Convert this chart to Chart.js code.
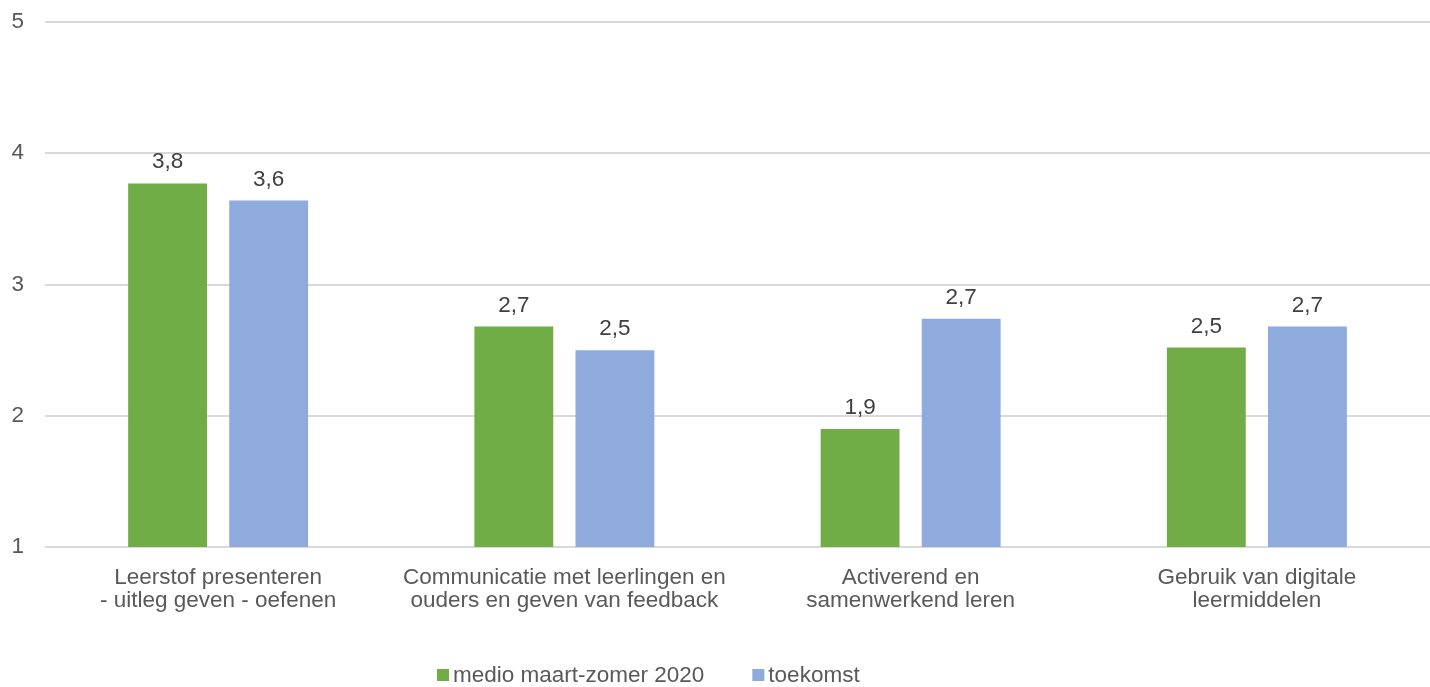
<!DOCTYPE html>
<html>
<head>
<meta charset="utf-8">
<script src="https://cdn.jsdelivr.net/npm/chart.js@4"></script>
<style>
  html, body { margin: 0; padding: 0; background: #fff; }
  #wrap { width: 1430px; height: 687px; }
</style>
</head>
<body>
<div id="wrap"><canvas id="mainChart"></canvas></div>
<script>
// Data
const categories = [
  ['Leerstof presenteren', '- uitleg geven - oefenen'],
  ['Communicatie met leerlingen en', 'ouders en geven van feedback'],
  ['Activerend en', 'samenwerkend leren'],
  ['Gebruik van digitale', 'leermiddelen']
];
const seriesNames = ['medio maart-zomer 2020', 'toekomst'];
const medioMaart = [3.77, 2.68, 1.9, 2.52];
const toekomst = [3.64, 2.5, 2.74, 2.68];
const yTicks = [1, 2, 3, 4, 5];

const FONT = "'Liberation Sans', Arial, sans-serif";
const FONT_SIZE = 22.5;
const textColor = '#595959';
const colors = ['#70AD47', '#8FAADC'];

// Formatting
const formatNum = (val) => val.toFixed(1).replace('.', ',');

// Value labels above bars
const valueLabels = {
  id: 'valueLabels',
  afterDatasetsDraw(chart) {
    const ctx = chart.ctx;
    ctx.save();
    ctx.font = FONT_SIZE + 'px ' + FONT;
    ctx.fillStyle = '#404040';
    ctx.textAlign = 'center';
    ctx.textBaseline = 'alphabetic';
    chart.data.datasets.forEach((ds, di) => {
      chart.getDatasetMeta(di).data.forEach((bar, i) => {
        ctx.fillText(formatNum(ds.data[i]), bar.x, bar.y - 15);
      });
    });
    ctx.restore();
  }
};

// Legend drawn Excel-style (small square, tight gap)
const bottomLegend = {
  id: 'bottomLegend',
  afterDraw(chart) {
    const ctx = chart.ctx;
    ctx.save();
    ctx.font = FONT_SIZE + 'px ' + FONT;
    ctx.textBaseline = 'middle';
    ctx.textAlign = 'left';
    const y = 675;
    let x = 437;
    chart.data.datasets.forEach((ds) => {
      ctx.fillStyle = ds.backgroundColor;
      ctx.fillRect(x, y - 6, 12, 12);
      x += 16;
      ctx.fillStyle = textColor;
      ctx.fillText(ds.label, x, y + 1);
      x += ctx.measureText(ds.label).width + 48;
    });
    ctx.restore();
  }
};

new Chart(document.getElementById('mainChart').getContext('2d'), {
  type: 'bar',
  data: {
    labels: categories,
    datasets: [
      {
        label: seriesNames[0],
        data: medioMaart,
        backgroundColor: colors[0],
        barPercentage: 0.78,
        categoryPercentage: 0.584
      },
      {
        label: seriesNames[1],
        data: toekomst,
        backgroundColor: colors[1],
        barPercentage: 0.78,
        categoryPercentage: 0.584
      }
    ]
  },
  options: {
    responsive: true,
    maintainAspectRatio: false,
    animation: false,
    layout: { padding: { top: 0, right: 0, bottom: 50, left: 0 } },
    plugins: {
      tooltip: { enabled: false },
      legend: { display: false }
    },
    scales: {
      y: {
        min: 1,
        max: 5,
        afterBuildTicks: (scale) => { scale.ticks = yTicks.map(v => ({ value: v })); },
        afterFit: (scale) => {
          scale.width = 45;
          scale.paddingTop = 22;
        },
        ticks: {
          padding: 21,
          color: textColor,
          font: { family: FONT, size: FONT_SIZE }
        },
        grid: { color: '#D9D9D9', lineWidth: 2, drawTicks: false },
        border: { display: false }
      },
      x: {
        grid: { display: false },
        border: { display: false },
        afterFit: (scale) => { scale.height = 90; },
        ticks: {
          padding: 11,
          maxRotation: 0,
          color: textColor,
          font: { family: FONT, size: FONT_SIZE, lineHeight: 1.03 }
        }
      }
    }
  },
  plugins: [valueLabels, bottomLegend]
});
</script>
</body>
</html>
